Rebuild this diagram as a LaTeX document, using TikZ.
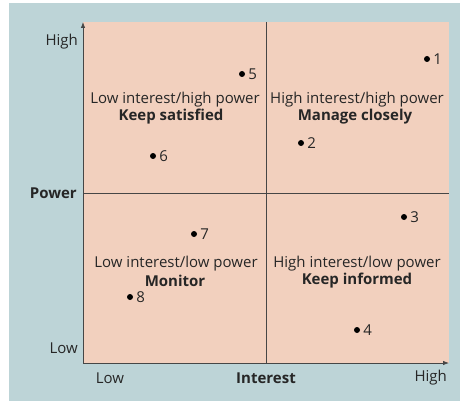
\documentclass[tikz,border=0pt]{standalone}
\usepackage{fontspec}
\setmainfont{Open Sans}
\usetikzlibrary{arrows.meta}
\definecolor{bgblue}{RGB}{189,212,215}
\definecolor{qpink}{RGB}{242,208,190}
\definecolor{axisgray}{RGB}{70,70,70}
\begin{document}
\begin{tikzpicture}[x=1pt,y=-1pt,
  lbl/.style={font=\fontsize{15}{17}\selectfont, text=black!85, inner sep=0pt},
  bld/.style={lbl, font=\fontsize{15}{17}\selectfont\bfseries},
  pt/.style={circle, fill=black, inner sep=0pt, minimum size=6pt},
  num/.style={lbl, anchor=west, xshift=3pt},
  axis/.style={draw=axisgray, line width=0.8pt},
  divider/.style={draw=axisgray, line width=0.7pt}]
\useasboundingbox (0,0) rectangle (460,401);
\fill[white] (0,0) rectangle (460,401);
\fill[bgblue] (9,3) rectangle (460,401);
\fill[qpink] (83,22) rectangle (449,363);
% dividers
\coordinate (vtop) at (266,22);
\coordinate (vbot) at (266,363);
\coordinate (hl) at (83,193);
\coordinate (hr) at (449,193);
\draw[divider] (vtop) -- (vbot);
\draw[divider] (hl) -- (hr);
% axes
\coordinate (org) at (83,363);
\coordinate (ytop) at (83,22);
\coordinate (xend) at (449,363);
\draw[axis, -{Latex[length=6pt,width=4.5pt]}] (org) -- (ytop);
\draw[axis, -{Latex[length=6pt,width=4.5pt]}] (org) -- (xend);
% axis labels
\node[lbl, anchor=east] (yhigh) at (78,42) {High};
\node[bld, anchor=east] (ypow) at (77,193) {Power};
\node[lbl, anchor=east] (ylow) at (78,348) {Low};
\node[lbl] (xlow) at (110,378) {Low};
\node[bld] (xint) at (266,378) {Interest};
\node[lbl, anchor=east] (xhigh) at (447,378) {High};
% quadrant texts
\node[lbl] (q1a) at (175,100) {Low interest/high power};
\node[bld] (q1b) at (171,117) {Keep satisfied};
\node[lbl] (q2a) at (357,100) {High interest/high power};
\node[bld] (q2b) at (355,117) {Manage closely};
\node[lbl] (q3a) at (176,264) {Low interest/low power};
\node[bld] (q3b) at (175,281) {Monitor};
\node[lbl] (q4a) at (357,264) {High interest/low power};
\node[bld] (q4b) at (357,281) {Keep informed};
% points
\node[pt] (p1) at (427,59) {};  \node[num] at (p1.east) {1};
\node[pt] (p2) at (301,143) {}; \node[num] at (p2.east) {2};
\node[pt] (p3) at (404,217) {}; \node[num] at (p3.east) {3};
\node[pt] (p4) at (357,330) {}; \node[num] at (p4.east) {4};
\node[pt] (p5) at (242,74) {};  \node[num] at (p5.east) {5};
\node[pt] (p6) at (153,156) {}; \node[num] at (p6.east) {6};
\node[pt] (p7) at (194,234) {}; \node[num] at (p7.east) {7};
\node[pt] (p8) at (130,297) {}; \node[num] at (p8.east) {8};
\end{tikzpicture}
\end{document}
